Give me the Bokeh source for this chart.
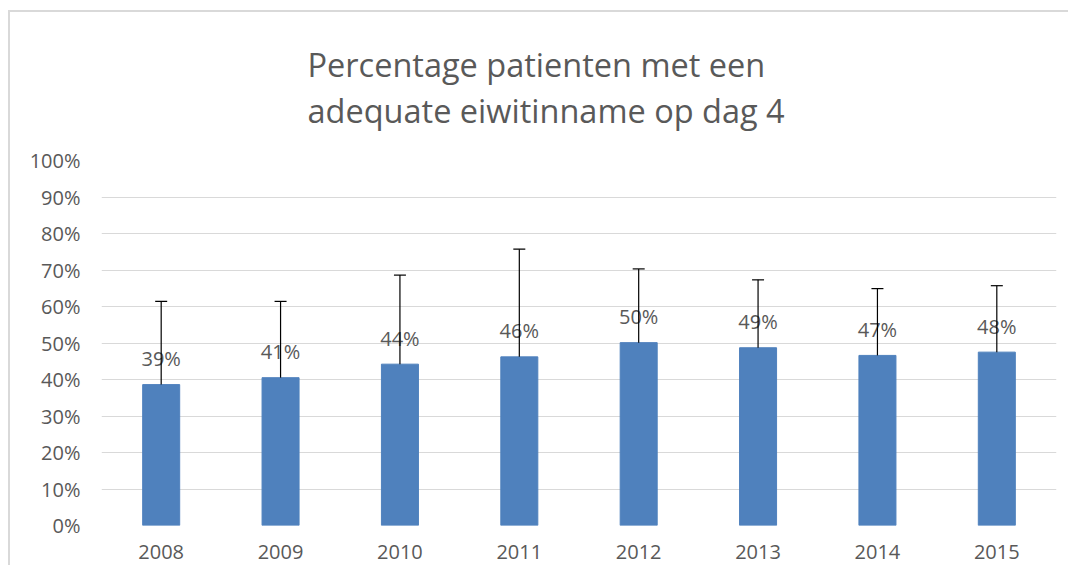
from bokeh.plotting import figure
from bokeh.models import ColumnDataSource, Range1d, FactorRange, NumeralTickFormatter, FixedTicker
from bokeh.core.properties import value
from bokeh.embed import file_html
from bokeh.resources import INLINE

years = ["2008", "2009", "2010", "2011", "2012", "2013", "2014", "2015"]
values = [0.386, 0.405, 0.442, 0.462, 0.501, 0.487, 0.466, 0.475]
uppers = [0.614, 0.614, 0.686, 0.757, 0.703, 0.673, 0.649, 0.657]
labels = ["39%", "41%", "44%", "46%", "50%", "49%", "47%", "48%"]
y_ticks = [0, 0.1, 0.2, 0.3, 0.4, 0.5, 0.6, 0.7, 0.8, 0.9, 1.0]

FONT = "Open Sans"
GREY = "#595959"

src = ColumnDataSource(dict(x=years, v=values, up=uppers, lab=labels))

p = figure(width=1060, height=555, x_range=FactorRange(*years, range_padding=0),
           y_range=Range1d(0, 1), output_backend="svg", toolbar_location=None,
           title="Percentage patienten met een\nadequate eiwitinname op dag 4",
           min_border_left=91, min_border_right=14, min_border_top=143, min_border_bottom=42)
p.margin = (10, 0, 0, 8)
p.styles = {"border-top": "2px solid #d9d9d9", "border-left": "2px solid #d9d9d9"}

p.title.align = "left"
p.title.offset = 206
p.title.text_font = FONT
p.title.text_font_size = "32.5px"
p.title.text_font_style = "normal"
p.title.text_color = GREY
p.title.text_line_height = 1.02
p.title.standoff = 55

p.vbar(x="x", top="v", width=0.31, source=src, fill_color="#4f81bd", line_color="#4f81bd")
p.text(x="x", y="v", text="lab", source=src, y_offset=-26, text_align="center",
       text_baseline="middle", text_font=value(FONT), text_font_size="20px", text_color=GREY)
p.segment(x0="x", y0="v", x1="x", y1="up", source=src, line_color="black", line_width=1.2)
p.scatter(x="x", y="up", source=src, marker="dash", size=12, line_color="black", line_width=1.2)

p.yaxis.ticker = FixedTicker(ticks=y_ticks)
p.yaxis.formatter = NumeralTickFormatter(format="0%")
for ax in (p.xaxis, p.yaxis):
    ax.axis_line_color = None
    ax.major_tick_line_color = None
    ax.minor_tick_line_color = None
    ax.major_label_text_font = FONT
    ax.major_label_text_font_size = "20px"
    ax.major_label_text_color = GREY
p.yaxis.major_label_standoff = 15
p.xaxis.major_label_standoff = 13

p.xgrid.grid_line_color = None
p.ygrid.grid_line_color = "#d9d9d9"
p.ygrid.ticker = FixedTicker(ticks=y_ticks)
p.outline_line_color = None

open("out.html", "w").write(file_html(p, INLINE))
